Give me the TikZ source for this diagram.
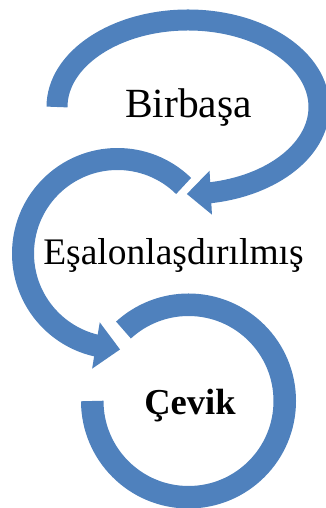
\documentclass[tikz,border=0pt]{standalone}
\usepackage{fontspec}
\setmainfont{Liberation Serif}
\usetikzlibrary{calc}
\definecolor{arcblue}{HTML}{4F81BD}
\begin{document}
\begin{tikzpicture}[x=1pt,y=1pt,
  band/.style={draw=arcblue, line cap=butt},
  head/.style={fill=arcblue, draw=none},
  lbl/.style={anchor=base, inner sep=0pt, text=black}]
\useasboundingbox (0,0) rectangle (326,508);
\clip (0,0) rectangle (326,508);
% arc 1 (top, elliptic)
\coordinate (c1) at (188,401);
\draw[band, line width=21pt] ($(c1)+(180:131 and 87)$) arc[start angle=180, end angle=-84, x radius=131, y radius=87];
\coordinate (b1) at ($(c1)+({131*cos(-80)},{87*sin(-80)})$);
\coordinate (t1) at ($(c1)+({131*cos(-90.5)},{87*sin(-90.5)})$);
\fill[head] ($(b1)!22pt!90:(t1)$) -- (t1) -- ($(b1)!22pt!-90:(t1)$) -- cycle;
% arc 2 (middle)
\coordinate (c2) at (117.5,254.5);
\draw[band, line width=22pt] ($(c2)+(45.6:94.5)$) arc[start angle=45.6, end angle=260, radius=94.5];
\coordinate (b2) at ($(c2)+(256.8:94.5)$);
\coordinate (t2) at ($(c2)+(271.5:96)$);
\fill[head] ($(b2)!23.5pt!90:(t2)$) -- (t2) -- ($(b2)!23.5pt!-90:(t2)$) -- cycle;
% arc 3 (bottom)
\coordinate (c3) at (188.5,107);
\draw[band, line width=22.5pt] ($(c3)+(180:96.25)$) arc[start angle=180, end angle=492.5, radius=96.25];
% labels
\node[lbl, font=\fontsize{41.5}{48}\selectfont] (n1) at (188.5,390) {Birbaşa};
\node[lbl, font=\fontsize{37.5}{45}\selectfont] (n2) at (173.5,243) {Eşalonlaşdırılmış};
\node[lbl, font=\bfseries\fontsize{36.5}{42}\selectfont] (n3) at (190,93) {Çevik};
\end{tikzpicture}
\end{document}
